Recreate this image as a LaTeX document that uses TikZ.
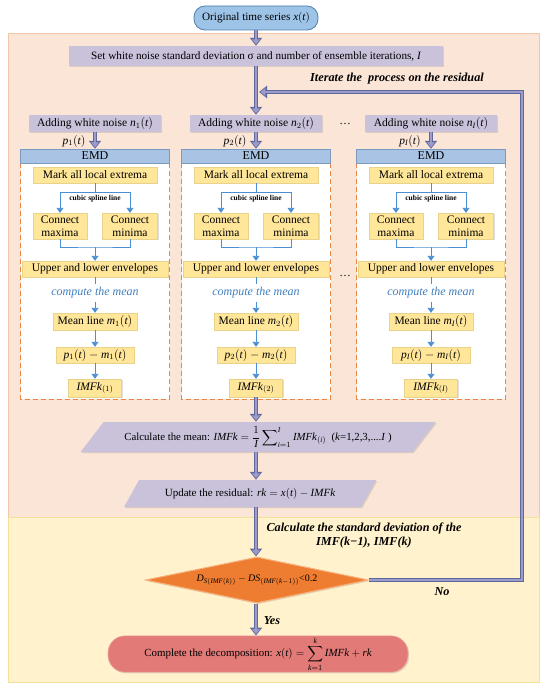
\documentclass[tikz,border=0pt]{standalone}
\usepackage{amsmath}
\usepackage{fontspec}
\setmainfont{Liberation Serif}
\begingroup\edef\x{\endgroup
 \noexpand\DeclareSymbolFont{letters}{TU}{\rmdefault}{m}{it}%
 \noexpand\DeclareSymbolFont{operators}{TU}{\rmdefault}{m}{n}}\x
\usetikzlibrary{arrows.meta,positioning,calc,shapes.geometric,shadows}
\definecolor{peachbg}{HTML}{FBE5D6}
\definecolor{peachline}{HTML}{F4C7A8}
\definecolor{yellowbg}{HTML}{FFF2CC}
\definecolor{yellowline}{HTML}{F5DF9A}
\definecolor{boxpurple}{HTML}{C9C2DA}
\definecolor{pillblue}{HTML}{9DC3E6}
\definecolor{pillline}{HTML}{4F7FB0}
\definecolor{emdblue}{HTML}{A8C3E3}
\definecolor{emdline}{HTML}{7A98C0}
\definecolor{boxyellow}{HTML}{FFE699}
\definecolor{yelline}{HTML}{E9D28C}
\definecolor{dashorange}{HTML}{E8874A}
\definecolor{lineblue}{HTML}{4A8FD4}
\definecolor{cmpblue}{HTML}{3F7FBF}
\definecolor{arrowline}{HTML}{5E6A9E}
\definecolor{arrowfill}{HTML}{9D9BC9}
\definecolor{diafill}{HTML}{EE7D31}
\definecolor{dialine}{HTML}{F8B07A}
\definecolor{finalfill}{HTML}{E27A78}
\definecolor{finalline}{HTML}{EFA3A0}

\begin{document}
\begin{tikzpicture}[x=1pt,y=-1pt,font=\fontsize{11.5}{13}\selectfont,
 shad/.style={drop shadow={shadow xshift=1.2pt,shadow yshift=-1.2pt,opacity=.25}},
 purplebox/.style={fill=boxpurple,shad,inner sep=1pt},
 yelbox/.style={fill=boxyellow,draw=yelline,line width=.4pt,shad,align=center,inner sep=1pt},
 emdbar/.style={fill=emdblue,draw=emdline,line width=.5pt,inner sep=1pt,font=\fontsize{12}{13}\selectfont},
 dashbox/.style={draw=dashorange,fill=white,dashed,line width=.8pt,dash pattern=on 5pt off 3pt},
 bluearr/.style={draw=lineblue,line width=.9pt,-{Triangle[length=5pt,width=7pt]}},
 blueline/.style={draw=lineblue,line width=.9pt},
 fatarrow/.style={draw=arrowfill,line width=2.6pt,shorten >=1.4pt,-{Triangle[length=5pt,width=7.5pt]},
   preaction={draw=arrowline,line width=4.6pt,shorten >=0pt,-{Triangle[length=8pt,width=12pt]}}},
 note/.style={font=\fontsize{12.2}{14}\selectfont\bfseries\itshape,align=center}]
\useasboundingbox (0,0) rectangle (550,693);
% background regions
\fill[peachbg,draw=peachline,line width=.6pt] (8,33) rectangle (539,517);
\fill[yellowbg,draw=yellowline,line width=.6pt] (8,517) rectangle (539,682);

\node[fill=pillblue,draw=pillline,line width=.8pt,rounded corners=11pt,minimum width=124,minimum height=24,
  font=\fontsize{11.2}{12}\selectfont] (orig) at (256,18) {Original time series $x(t)$};
\node[purplebox,minimum width=374,minimum height=20,font=\fontsize{11.2}{12}\selectfont] (setup) at (256,56)
  {Set white noise standard deviation σ and number of ensemble iterations, $I$};

% one column per noise realisation
\foreach \c/\k in {95/1,256/2,431/I}{
 \draw[dashbox] ({\c-74.5},163) rectangle ({\c+74.5},399);
 \node[purplebox,minimum width=132,minimum height=17] (add\k) at (\c,123.5) {Adding white noise $n_{\k}(t)$};
 \node[emdbar,minimum width=149,minimum height=14] (emd\k) at (\c,156) {EMD};
 \node (p\k) at ({\c-21},141) {$p_{\k}(t)$};
 \draw[fatarrow] (add\k) -- (emd\k);
 \node[yelbox,minimum width=124,minimum height=16] (mark\k) at (\c,175) {Mark all local extrema};
 \node[font=\fontsize{7.5}{8}\selectfont\bfseries] (spl\k) at (\c,199) {cubic spline line};
 \node[yelbox,minimum width=54,minimum height=26] (cmax\k) at ({\c-35},226) {Connect\\maxima};
 \node[yelbox,minimum width=55,minimum height=26] (cmin\k) at ({\c+35},226) {Connect\\minima};
 \draw[bluearr] (mark\k.south) -- ++(0,9) -| (cmax\k.north);
 \draw[bluearr] (mark\k.south) -- ++(0,9) -| (cmin\k.north);
 \coordinate (mrg\k) at (\c,247);
 \node[yelbox,minimum width=146,minimum height=16] (env\k) at (\c,269) {Upper and lower envelopes};
 \draw[blueline] (cmax\k.south) |- (mrg\k) -| (cmin\k.south);
 \draw[bluearr] (mrg\k) -- (env\k.north);
 \node[text=cmpblue,font=\fontsize{12}{13}\selectfont\itshape] (cmp\k) at (\c,293) {compute the mean};
 \node[yelbox,minimum width=84,minimum height=17] (mean\k) at (\c,321.5) {Mean line $m_{\k}(t)$};
 \node[yelbox,minimum width=78,minimum height=16] (pm\k) at (\c,355) {$p_{\k}(t)-m_{\k}(t)$};
 \node[yelbox,minimum width=53,minimum height=18] (imf\k) at (\c,388) {$IMFk_{(\k)}$};
 \draw[blueline] (env\k) -- (cmp\k);
 \draw[bluearr] (cmp\k) -- (mean\k);
 \draw[bluearr] (mean\k) -- (pm\k);
 \draw[bluearr] (pm\k) -- (imf\k);
}
\node (dots1) at (345,124) {\dots};
\node (dots2) at (345,276) {\dots};

\node[purplebox,trapezium,trapezium stretches=true,trapezium left angle=50,trapezium right angle=130,
  minimum width=356,minimum height=30,font=\fontsize{10.8}{12}\selectfont] (calc) at (258,437)
  {Calculate the mean: $IMFk=\displaystyle\frac{1}{I}\sum\nolimits_{i=1}^{I}IMFk_{(i)}$\ \ (\textit{k}=1,2,3,....\textit{I} )};
\node[purplebox,trapezium,trapezium stretches=true,trapezium left angle=48,trapezium right angle=132,
  minimum width=252,minimum height=27,font=\fontsize{11}{12}\selectfont] (upd) at (250,493.5)
  {Update the residual: $rk=x(t)-IMFk$};
\node[diamond,aspect=4.8,fill=diafill,draw=dialine,line width=1pt,minimum width=223,minimum height=46,inner sep=0pt,
  shad,font=\fontsize{10}{11}\selectfont] (dia) at (257,580) {$D_{S(IMF(k))}-DS_{(IMF(k-1))}$<0.2};
\node[fill=finalfill,draw=finalline,line width=.6pt,rounded corners=17pt,minimum width=300,minimum height=36,shad,
  inner sep=1pt,font=\fontsize{10.9}{12}\selectfont] (final) at (258,654)
  {Complete the decomposition: $x(t)=\displaystyle\sum_{k=1}^{k}IMFk+rk$};

\node[note] (iter) at (397,79) {Iterate the \ process on the residual};
\node[note] (std) at (364,535) {Calculate the standard deviation of the\\IMF(k−1), IMF(k)};
\node[note] (yes) at (272,621) {Yes};
\node[note] (no) at (442,592) {No};

% main flow
\coordinate (trunk) at (256,0);
\coordinate (join) at (259,92);
\coordinate (loopc) at (522,580);
\draw[fatarrow] (orig) -- (setup);
\draw[fatarrow] (setup) -- (add2);
\draw[fatarrow] (imf2) -- (calc.north -| trunk);
\draw[fatarrow] (calc.south -| trunk) -- (upd.north -| trunk);
\draw[fatarrow] (upd.south -| trunk) -- (dia.north -| trunk);
\draw[fatarrow] (dia.south -| trunk) -- (final.north -| trunk);
\draw[fatarrow] (dia.east) -- (loopc) |- (join);
\end{tikzpicture}
\end{document}
